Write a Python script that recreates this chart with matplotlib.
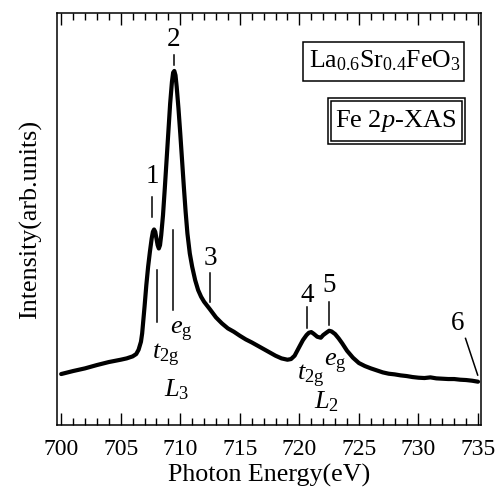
import matplotlib
matplotlib.use("Agg")
import matplotlib.pyplot as plt
from matplotlib.patches import Rectangle
from matplotlib.ticker import MultipleLocator

plt.rcParams['font.family'] = ['Liberation Serif', 'DejaVu Serif']
plt.rcParams['mathtext.fontset'] = 'custom'
plt.rcParams['mathtext.rm'] = 'Liberation Serif'
plt.rcParams['mathtext.it'] = 'Liberation Serif:italic'

# ---- data ----
energy = [700, 701, 702, 703, 704, 705, 705.5, 706, 706.3, 706.5, 706.7, 706.8, 707, 707.15, 707.3,
          707.45, 707.6, 707.7, 707.8, 707.9, 708, 708.1, 708.2, 708.3, 708.4, 708.55, 708.7, 708.85,
          709, 709.15, 709.3, 709.4, 709.5, 709.6, 709.7, 709.85, 710, 710.15, 710.3, 710.45, 710.6,
          710.8, 711, 711.25, 711.5, 711.75, 712, 712.5, 713, 713.5, 714, 714.5, 715, 715.5, 716,
          716.5, 717, 717.5, 718, 718.5, 719, 719.3, 719.6, 720, 720.3, 720.6, 720.8, 721, 721.2,
          721.5, 721.8, 722, 722.3, 722.5, 722.7, 723, 723.3, 723.6, 724, 724.5, 725, 725.5, 726,
          726.5, 727, 727.5, 728, 728.5, 729, 729.5, 730, 730.5, 731, 731.5, 732, 732.5, 733, 733.5,
          734, 734.5, 735]
intensity = [15.3, 16.2, 17.0, 18.0, 18.9, 19.6, 20.0, 20.6, 21.3, 22.6, 25.0, 27.5, 35.5, 42.0, 47.5,
             52.0, 56.0, 58.0, 58.7, 58.0, 56.0, 54.0, 53.0, 54.0, 57.0, 63.0, 71.0, 79.5,
             88.0, 96.5, 103.0, 105.8, 106.3, 105.0, 101.5, 95.0, 87.5, 79.5, 71.5, 64.0, 57.5,
             51.5, 47.5, 43.5, 40.5, 38.5, 37.0, 34.7, 32.3, 30.5, 29.0, 28.0, 26.8, 25.7, 24.8,
             23.8, 22.8, 21.8, 20.8, 20.0, 19.6, 19.8, 20.8, 23.5, 25.5, 27.0, 27.7, 27.9, 27.4,
             26.5, 26.2, 27.0, 27.8, 28.3, 28.1, 27.3, 26.0, 24.5, 22.3, 20.2, 18.6, 17.7, 17.0,
             16.4, 15.8, 15.4, 15.2, 14.9, 14.7, 14.4, 14.2, 14.1, 14.3, 14.0, 13.9, 13.8, 13.8, 13.6,
             13.5, 13.3, 13.0]

peak_labels = ['1', '2', '3', '4', '5']
peak_x = [707.66, 709.45, 712.5, 720.65, 722.5]
peak_line_y0 = [62.5, 108.0, 37.0, 29.0, 30.0]
peak_line_y1 = [68.5, 111.0, 45.5, 35.5, 37.0]
peak_text_y = [74.5, 115.7, 50.0, 39.0, 42.0]

# crystal-field markers of L3
t2g_x, t2g_y = 708.08, (31.0, 46.5)
eg_x, eg_y = 709.4, (34.5, 58.5)

x_ticks = [700, 705, 710, 715, 720, 725, 730, 735]

fig = plt.figure(figsize=(5.02, 4.95), dpi=100)
ax = fig.add_axes([57/502, 70/495, 424/502, 412/495])

ax.plot(energy, intensity, color='black', lw=3.0, solid_joinstyle='round', solid_capstyle='round')

ax.set_xlim(699.65, 735.25)
ax.set_ylim(0, 123.7)
ax.set_xticks(x_ticks)
ax.xaxis.set_minor_locator(MultipleLocator(1))
ax.set_yticks([])
ax.tick_params(axis='x', which='both', direction='in', top=True, bottom=True, labelsize=17, pad=10,
               width=1.0)
ax.tick_params(axis='x', which='major', length=8.5)
ax.tick_params(axis='x', which='minor', length=4.7)
for s in ax.spines.values():
    s.set_linewidth(1.1)

ax.set_xlabel('Photon Energy(eV)', fontsize=18.7, labelpad=3)
ax.set_ylabel('Intensity(arb.units)', fontsize=18.7, labelpad=11)

# peak markers
for lab, x, y0, y1, ty in zip(peak_labels, peak_x, peak_line_y0, peak_line_y1, peak_text_y):
    ax.plot([x, x], [y0, y1], color='black', lw=1.1)
    ax.text(x, ty, lab, ha='center', va='center', fontsize=19.5)

ax.plot([t2g_x, t2g_x], t2g_y, color='black', lw=1.1)
ax.plot([eg_x, eg_x], eg_y, color='black', lw=1.1)

# peak 6 marker (slanted)
ax.plot([733.95, 734.97], [26.0, 15.0], color='black', lw=1.1)
ax.text(733.25, 30.5, '6', ha='center', va='center', fontsize=19.5)

# symmetry labels
fs_sym = 19
ax.text(710.1, 28.0, r'$\it{e}_{\rm g}$', ha='center', va='center', fontsize=fs_sym)
ax.text(708.75, 21.0, r'$\it{t}_{\rm 2g}$', ha='center', va='center', fontsize=fs_sym)
ax.text(709.7, 10.5, r'$\it{L}_{\rm 3}$', ha='center', va='center', fontsize=fs_sym)
ax.text(720.95, 14.7, r'$\it{t}_{\rm 2g}$', ha='center', va='center', fontsize=fs_sym)
ax.text(723.05, 18.3, r'$\it{e}_{\rm g}$', ha='center', va='center', fontsize=fs_sym)
ax.text(722.25, 7.0, r'$\it{L}_{\rm 2}$', ha='center', va='center', fontsize=fs_sym)

# boxes (axes fraction)
def fx(px):
    return (px - 57) / 424
def fy(py):
    return (425 - py) / 412

ax.add_patch(Rectangle((fx(303.5), fy(80.5)), fx(464.5) - fx(303.5), fy(41.7) - fy(80.5),
                       transform=ax.transAxes, fill=False, lw=1.1, color='black'))
ax.text(fx(384.5), fy(61), r'La$_{\mathregular{0.6}}$Sr$_{\mathregular{0.4}}$FeO$_{\mathregular{3}}$',
        transform=ax.transAxes, ha='center', va='center', fontsize=18.5)

ax.add_patch(Rectangle((fx(328.5), fy(143.5)), fx(465) - fx(328.5), fy(98.3) - fy(143.5),
                       transform=ax.transAxes, fill=False, lw=1.1, color='black'))
ax.add_patch(Rectangle((fx(331.5), fy(140.5)), fx(462) - fx(331.5), fy(101.3) - fy(140.5),
                       transform=ax.transAxes, fill=False, lw=1.1, color='black'))
ax.text(fx(396), fy(121), r'Fe 2$\it{p}$-XAS', transform=ax.transAxes,
        ha='center', va='center', fontsize=19)

fig.savefig('out.png', dpi=100)
